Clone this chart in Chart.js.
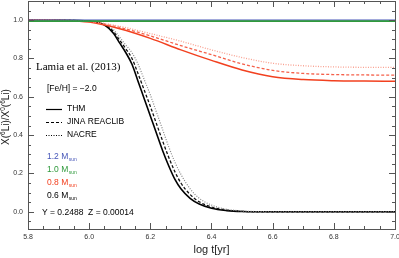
<!DOCTYPE html>
<html><head><meta charset="utf-8">
<script src="https://cdn.jsdelivr.net/npm/chart.js@4/dist/chart.umd.min.js"></script>
<style>html,body{margin:0;padding:0;background:#fff}#wrap{width:399px;height:258px}</style>
</head><body><div id="wrap"><canvas id="c" width="399" height="258"></canvas></div>
<script>
// ---- data ----
const xTickVals = [5.8, 6.0, 6.2, 6.4, 6.6, 6.8, 7.0];
const yTickVals = [0.0, 0.2, 0.4, 0.6, 0.8, 1.0];
const tFine = [5.8, 5.9, 6.0, 6.05, 6.08, 6.1, 6.12, 6.14, 6.16, 6.18, 6.2, 6.22, 6.24, 6.26, 6.28, 6.3, 6.33, 6.36, 6.4, 6.45, 6.5, 6.55, 6.6, 6.8, 7.0];
const m06THM   = [1.0, 0.999, 0.994, 0.975, 0.93, 0.88, 0.83, 0.77, 0.68, 0.59, 0.50, 0.41, 0.32, 0.24, 0.17, 0.12, 0.07, 0.04, 0.018, 0.006, 0.001, 0, 0, 0, 0];
const m06JINA  = [1.0, 0.999, 0.995, 0.978, 0.94, 0.895, 0.85, 0.80, 0.72, 0.635, 0.55, 0.46, 0.37, 0.285, 0.21, 0.15, 0.09, 0.052, 0.025, 0.009, 0.002, 0, 0, 0, 0];
const m06NACRE = [1.0, 0.999, 0.996, 0.98, 0.95, 0.91, 0.87, 0.83, 0.77, 0.69, 0.61, 0.52, 0.43, 0.34, 0.26, 0.195, 0.12, 0.07, 0.035, 0.013, 0.004, 0.001, 0, 0, 0];
const tCoarse = [5.8, 5.9, 6.0, 6.1, 6.2, 6.3, 6.4, 6.5, 6.6, 6.7, 6.8, 6.9, 7.0];
const m08THM   = [1.0, 0.998, 0.99, 0.955, 0.905, 0.845, 0.79, 0.74, 0.705, 0.69, 0.684, 0.682, 0.681];
const m08JINA  = [1.0, 0.999, 0.992, 0.962, 0.918, 0.867, 0.82, 0.772, 0.738, 0.722, 0.716, 0.714, 0.713];
const m08NACRE = [1.0, 0.999, 0.994, 0.968, 0.93, 0.89, 0.845, 0.805, 0.775, 0.762, 0.756, 0.754, 0.754];
const tFlat = [5.8, 7.0];
const m10 = [0.995, 0.995];
const m12 = [1.0, 1.0];

const pts = (xs, ys) => xs.map((x, i) => ({x: x, y: ys[i]}));
const RED = '#f2401f', RED2 = '#f5604a', RED3 = '#f9a090';
const BLUE = '#4656b8', GREEN = '#2f9a3c';
const ds = (label, xs, ys, color, dash, w) => ({label, data: pts(xs, ys), borderColor: color, borderWidth: w, borderDash: dash, pointRadius: 0, fill: false, cubicInterpolationMode: 'monotone'});

const datasets = [
  ds('1.0 THM', tFlat, m10, GREEN, [], 1.6),
  ds('1.2 THM', tFlat, m12, BLUE, [], 1.2),
  ds('0.8 NACRE', tCoarse, m08NACRE, RED3, [1, 1.5], 1.3),
  ds('0.8 JINA', tCoarse, m08JINA, RED2, [3, 2], 1.3),
  ds('0.8 THM', tCoarse, m08THM, RED, [], 1.5),
  ds('0.6 NACRE', tFine, m06NACRE, '#888888', [1, 1.5], 1.2),
  ds('0.6 JINA', tFine, m06JINA, '#111111', [3, 2], 1.3),
  ds('0.6 THM', tFine, m06THM, '#000000', [], 1.6),
];

const frame = {
  id: 'frame',
  afterDatasetsDraw(chart) {
    const {ctx, chartArea: a, scales: {x, y}} = chart;
    ctx.save();
    ctx.strokeStyle = '#555'; ctx.lineWidth = 1;
    ctx.strokeRect(a.left + 0.5, a.top + 0.5, a.right - a.left, a.bottom - a.top);
    ctx.beginPath();
    for (let v = 5.8; v <= 7.0001; v += 0.05) {
      const px = Math.round(x.getPixelForValue(v)) + 0.5;
      const major = Math.abs(v * 5 - Math.round(v * 5)) < 1e-6;
      const L = major ? 6 : 3;
      ctx.moveTo(px, a.bottom); ctx.lineTo(px, a.bottom - L);
      ctx.moveTo(px, a.top); ctx.lineTo(px, a.top + L);
    }
    for (let v = -0.05; v <= 1.0501; v += 0.05) {
      const py = Math.round(y.getPixelForValue(v)) + 0.5;
      const major = Math.abs(v * 5 - Math.round(v * 5)) < 1e-6;
      const L = major ? 6 : 3;
      ctx.moveTo(a.left, py); ctx.lineTo(a.left + L, py);
      ctx.moveTo(a.right, py); ctx.lineTo(a.right - L, py);
    }
    ctx.stroke();

    // y-axis title with superscripts
    ctx.save();
    ctx.translate(6, 117);
    ctx.rotate(-Math.PI / 2);
    ctx.fillStyle = '#222';
    ctx.textBaseline = 'middle';
    const parts = [['X(', 0], ['6', 1], ['Li)/X', 0], ['0', 1], ['(', 0], ['6', 1], ['Li)', 0]];
    let total = 0;
    parts.forEach(([s, sup]) => { ctx.font = (sup ? '6.5px' : '10px') + ' "Liberation Sans"'; total += ctx.measureText(s).width; });
    let cx = -total / 2;
    parts.forEach(([s, sup]) => {
      ctx.font = (sup ? '6.5px' : '10px') + ' "Liberation Sans"';
      ctx.fillText(s, cx, sup ? -3 : 0);
      cx += ctx.measureText(s).width;
    });
    ctx.restore();

    // annotations
    ctx.textBaseline = 'middle';
    ctx.fillStyle = '#000';
    ctx.font = '11px "Liberation Serif"';
    ctx.fillText('Lamia et al. (2013)', 36, 67);
    ctx.font = '8.5px "Liberation Sans"';
    ctx.fillText('[Fe/H] = \u22122.0', 47, 89);
    const leg = [['THM', [], 109], ['JINA REACLIB', [3, 2], 122], ['NACRE', [1, 1.5], 135]];
    leg.forEach(([t, d, yy]) => {
      ctx.beginPath(); ctx.setLineDash(d); ctx.strokeStyle = '#000'; ctx.lineWidth = 1.2;
      ctx.moveTo(46, yy + 0.5); ctx.lineTo(62, yy + 0.5); ctx.stroke();
      ctx.setLineDash([]);
      ctx.fillText(t, 67, yy);
    });
    const masses = [['1.2', BLUE, 157], ['1.0', GREEN, 170], ['0.8', RED, 183], ['0.6', '#000', 196]];
    masses.forEach(([m, c, yy]) => {
      ctx.fillStyle = c;
      ctx.font = '8.5px "Liberation Sans"';
      ctx.fillText(m + ' M', 47, yy);
      const w = ctx.measureText(m + ' M').width;
      ctx.font = '5px "Liberation Sans"';
      ctx.fillText('sun', 47 + w + 0.5, yy + 2.5);
    });
    ctx.fillStyle = '#000';
    ctx.font = '8.5px "Liberation Sans"';
    ctx.fillText('Y = 0.2488  Z = 0.00014', 42, 213);
    ctx.restore();
  }
};

new Chart(document.getElementById('c'), {
  type: 'line',
  data: {datasets},
  options: {
    responsive: false, animation: false,
    layout: {padding: {left: 0, right: 4, top: 1, bottom: 0}},
    plugins: {legend: {display: false}, tooltip: {enabled: false}},
    scales: {
      x: {
        type: 'linear', min: 5.8, max: 7.0,
        grid: {display: false, drawTicks: false}, border: {display: false},
        afterBuildTicks: s => { s.ticks = xTickVals.map(v => ({value: v})); },
        ticks: {font: {size: 7, family: 'Liberation Sans'}, color: '#333', padding: 4, maxRotation: 0, callback: v => v.toFixed(1)},
        title: {display: true, text: 'log t[yr]', font: {size: 11, family: 'Liberation Sans'}, color: '#222', padding: {top: 0, bottom: 1}},
        afterFit: s => { s.height = 29; s.paddingLeft = 0; s.paddingRight = 0; }
      },
      y: {
        type: 'linear', min: -0.09, max: 1.1,
        grid: {display: false, drawTicks: false}, border: {display: false},
        afterBuildTicks: s => { s.ticks = yTickVals.map(v => ({value: v})); },
        ticks: {font: {size: 7, family: 'Liberation Sans'}, color: '#333', padding: 5, callback: v => v.toFixed(1)},
        afterFit: s => { s.width = 28; s.paddingTop = 0; s.paddingBottom = 0; }
      }
    }
  },
  plugins: [frame]
});
</script></body></html>
